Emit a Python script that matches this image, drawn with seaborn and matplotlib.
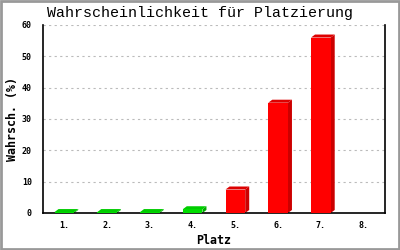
import matplotlib
matplotlib.use("Agg")
import matplotlib.pyplot as plt
import seaborn as sns
import pandas as pd
from matplotlib.patches import Polygon, Rectangle

categories = ["1.", "2.", "3.", "4.", "5.", "6.", "7.", "8."]
values = [0.3, 0.3, 0.3, 1.2, 7.5, 35.2, 56.0, 0.0]
groups = ["g", "g", "g", "g", "r", "r", "r", "r"]

front = {"g": "#00DD00", "r": "#FF0000"}
dark = {"g": "#00AA00", "r": "#CC0000"}
topc = {"g": "#00CC00", "r": "#DD0000"}

sns.set_style("white")
plt.rcParams['font.family'] = ['DejaVu Sans Mono']
plt.rcParams['text.color'] = 'black'
plt.rcParams['axes.labelcolor'] = 'black'
plt.rcParams['xtick.color'] = 'black'
plt.rcParams['ytick.color'] = 'black'

df = pd.DataFrame({"Platz": categories, "val": values})

fig = plt.figure(figsize=(4, 2.5), dpi=100)
ax = fig.add_axes([0.1075, 0.148, 0.855, 0.752])
sns.barplot(data=df, x="Platz", y="val", ax=ax, width=0.46,
            palette=[front[g] for g in groups], hue="Platz", legend=False,
            saturation=1, edgecolor="none", zorder=3)
ax.set_ylim(0, 60)
ax.set_xlim(-0.5, 7.5)

# 3D depth in data units: 4px right, 3px up
axw = 0.855 * 400
axh = 0.752 * 250
dx = 4 / axw * 8
dy = 3 / axh * 60
for p, g, v in zip(ax.patches, groups, values):
    if v <= 0:
        p.set_visible(False)
        continue
    x0 = p.get_x(); w = p.get_width(); h = p.get_height()
    side = Polygon([(x0 + w, 0), (x0 + w + dx, dy), (x0 + w + dx, h + dy), (x0 + w, h)],
                   closed=True, facecolor=dark[g], edgecolor="none", zorder=2)
    top = Polygon([(x0, h), (x0 + dx, h + dy), (x0 + w + dx, h + dy), (x0 + w, h)],
                  closed=True, facecolor=topc[g], edgecolor="none", zorder=2)
    ax.add_patch(side)
    ax.add_patch(top)

ax.set_yticks(range(0, 61, 10))
ax.yaxis.grid(True, linestyle=(0, (2, 3)), color="#BBBBBB", linewidth=0.8, zorder=0)
ax.set_axisbelow(True)
ax.tick_params(axis="y", direction="out", length=5, width=1, colors="black", labelsize=6, pad=3)
ax.tick_params(axis="x", length=0, labelsize=6, pad=6, colors="black")
for lab in ax.get_xticklabels() + ax.get_yticklabels():
    lab.set_fontweight("bold")

for s in ["left", "bottom", "right"]:
    ax.spines[s].set_visible(True)
    ax.spines[s].set_color("black")
    ax.spines[s].set_linewidth(1.2)
ax.spines["top"].set_visible(False)

ax.set_xlabel("Platz", fontsize=8.4, fontweight="bold", va="center", color="black")
ax.set_ylabel("Wahrsch. (%)", fontsize=8.4, fontweight="bold", va="center", color="black")
ax.xaxis.set_label_coords(0.5, -0.145)
ax.yaxis.set_label_coords(-0.09, 0.5)
fig.text(0.5, 0.948, "Wahrscheinlichkeit für Platzierung", ha="center", va="center",
         fontsize=10.8, family="Liberation Mono", color="black")

fig.patches.append(Rectangle((0.002, 0.003), 0.995, 0.993, transform=fig.transFigure,
                             fill=False, edgecolor="#999999", linewidth=2))

fig.savefig("out.png", dpi=100)
